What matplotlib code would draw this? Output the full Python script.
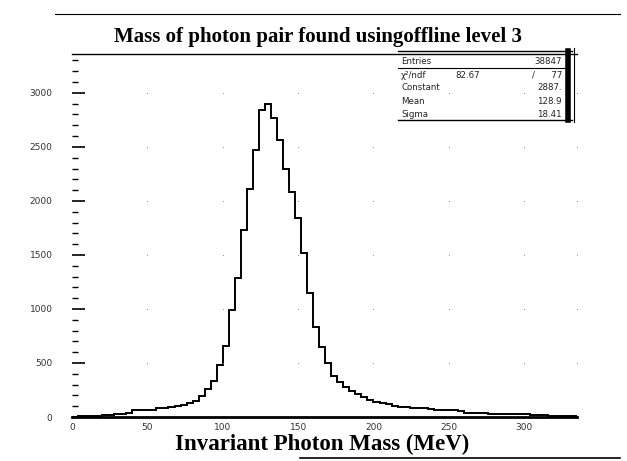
import numpy as np
import matplotlib
matplotlib.use("Agg")
import matplotlib.pyplot as plt
from matplotlib.lines import Line2D

# Invariant photon-pair mass histogram, 4 MeV bins starting at 0 MeV
bin_width = 4
counts = [
    3, 5, 6, 8, 10, 14, 18, 25, 32, 38,          # 0-40
    62, 64, 66, 68, 82, 84, 88, 98, 115, 132,    # 40-80
    145, 195, 255, 330, 480, 660, 990, 1290, 1730, 2110,   # 80-120
    2470, 2840, 2900, 2770, 2560, 2300, 2080, 1840, 1520, 1150,  # 120-160
    830, 650, 500, 380, 320, 280, 245, 215, 185, 160,     # 160-200
    140, 130, 120, 105, 95, 88, 84, 82, 80, 76,           # 200-240
    68, 66, 64, 62, 58, 40, 38, 36, 35, 32,               # 240-280
    30, 30, 29, 28, 28, 26, 20, 16, 14, 12,               # 280-320
    10, 9, 8, 8,                                           # 320-336
]
edges = np.arange(len(counts) + 1) * bin_width

x_ticks = [0, 50, 100, 150, 200, 250, 300]
y_ticks = [0, 500, 1000, 1500, 2000, 2500, 3000]

stats_labels = ["Entries", "\u03c7\u00b2/ndf", "Constant", "Mean", "Sigma"]
stats_values = ["38847", "/      77", "2887.", "128.9", "18.41"]
chi2_value = "82.67"

title = "Mass of photon pair found usingoffline level 3"
xlabel = "Invariant Photon Mass (MeV)"

W, H = 627, 461
fig = plt.figure(figsize=(W / 100, H / 100), dpi=100)
ax = fig.add_axes([72 / W, 1 - 417 / H, 505 / W, 363 / H])

ax.stairs(counts, edges, color="black", linewidth=1.4)

ax.set_xlim(0, 335)
ax.set_ylim(0, 3360)

# faint grid dots at major tick intersections
gx, gy = np.meshgrid(x_ticks[1:] + [335], y_ticks[1:])
ax.scatter(gx.ravel(), gy.ravel(), s=0.6, color="#888888", linewidths=0)

ax.set_xticks(x_ticks)
ax.set_yticks(y_ticks)
ax.set_yticks(np.arange(0, 3301, 100), minor=True)
ax.tick_params(axis="x", length=0, pad=4, labelsize=6.5, labelcolor="#333333")
ax.tick_params(axis="y", which="major", direction="in", length=9, width=1.2,
               pad=14, labelsize=6.5, labelcolor="#333333")
ax.tick_params(axis="y", which="minor", direction="in", length=4, width=1.0)

for name in ("left", "right"):
    ax.spines[name].set_visible(False)
ax.spines["top"].set_linewidth(1.0)
ax.spines["bottom"].set_linewidth(2.0)

serif = ["Liberation Serif", "DejaVu Serif"]
fig.text(318 / W, 1 - 37 / H, title, ha="center", va="center",
         fontsize=15, fontweight="bold", family=serif)
fig.text(322 / W, 1 - 444 / H, xlabel, ha="center", va="center",
         fontsize=16.5, fontweight="bold", family=serif)

# statistics box
fs = 6.2
left_px, right_px = 398, 562
rows_py = [61, 75, 88, 101, 114]
for lab, val, py in zip(stats_labels, stats_values, rows_py):
    fig.text(left_px / W + 0.005, 1 - py / H, lab, ha="left", va="center",
             fontsize=fs, color="#222222")
    fig.text(right_px / W, 1 - py / H, val, ha="right", va="center",
             fontsize=fs, color="#222222")
fig.text(480 / W, 1 - rows_py[1] / H, chi2_value, ha="right", va="center",
         fontsize=fs, color="#222222")

def hline(y, x0, x1, lw=1.0):
    fig.add_artist(Line2D([x0 / W, x1 / W], [1 - y / H, 1 - y / H],
                          color="black", linewidth=lw))

def vline(x, y0, y1, lw=1.0):
    fig.add_artist(Line2D([x / W, x / W], [1 - y0 / H, 1 - y1 / H],
                          color="black", linewidth=lw))

hline(51, 398, 572, 1.0)
hline(68, 398, 565, 0.8)
hline(120, 398, 572, 1.0)
vline(568, 51, 120, 4.0)
vline(574, 48, 122, 0.8)

# page frame lines
hline(14, 55, 620, 0.8)
hline(458, 300, 620, 1.2)

fig.savefig("out.png", dpi=100)
